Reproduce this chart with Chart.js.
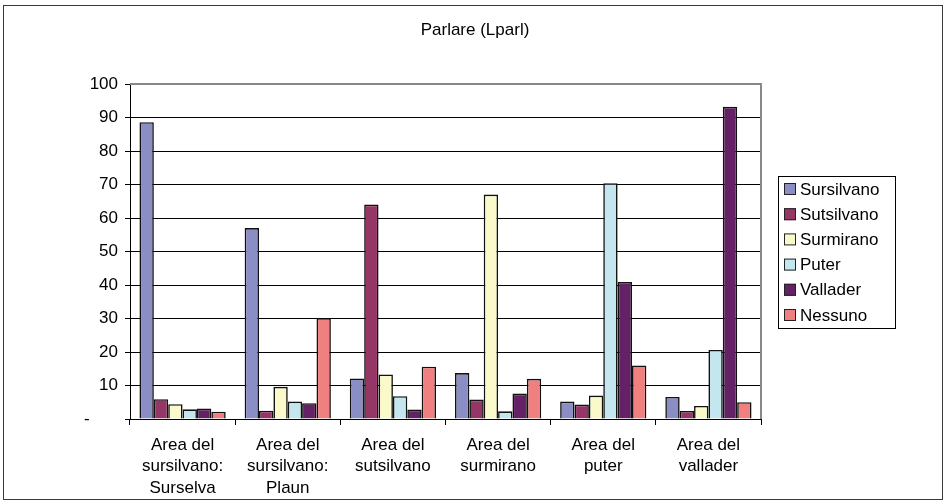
<!DOCTYPE html>
<html>
<head>
<meta charset="utf-8">
<title>Parlare (Lparl)</title>
<script src="https://cdn.jsdelivr.net/npm/chart.js@4"></script>
<style>
  html, body { margin: 0; padding: 0; background: #fff; }
  canvas { display: block; }
</style>
</head>
<body>
<canvas id="parlareChart" width="946" height="502"></canvas>
<script>
// categorie (aree) e percentuali per idioma
const areas = [
  ['Area del', 'sursilvano:', 'Surselva'],
  ['Area del', 'sursilvano:', 'Plaun'],
  ['Area del', 'sutsilvano'],
  ['Area del', 'surmirano'],
  ['Area del', 'puter'],
  ['Area del', 'vallader']
];
const seriesNames = ['Sursilvano', 'Sutsilvano', 'Surmirano', 'Puter', 'Vallader', 'Nessuno'];
const sursilvano = [88.6, 57.0, 12.1, 13.7, 5.2, 6.6];
const sutsilvano = [5.9, 2.5, 64.0, 5.8, 4.3, 2.4];
const surmirano  = [4.4, 9.6, 13.3, 67.0, 7.0, 3.9];
const puter      = [2.9, 5.2, 6.8, 2.3, 70.4, 20.6];
const vallader   = [3.1, 4.7, 2.8, 7.6, 40.9, 93.2];
const nessuno    = [2.2, 30.1, 15.6, 12.0, 16.0, 5.0];
const yMin = 0, yMax = 100, yStep = 10;
const chartTitle = 'Parlare (Lparl)';

const colors = ['#8b8dc5', '#963667', '#f9f9ca', '#c4e7ef', '#652166', '#f08080'];
const values = [sursilvano, sutsilvano, surmirano, puter, vallader, nessuno];

const FONT = '"Liberation Sans", Arial, sans-serif';
Chart.defaults.font.family = FONT;
Chart.defaults.font.size = 17;
Chart.defaults.color = '#000';

// cornice esterna, titolo centrato sulla tela, bordo grigio dell'area del grafico
const frame = {
  id: 'frame',
  beforeDraw(chart) {
    const c = chart.ctx;
    c.save();
    c.fillStyle = '#fff';
    c.fillRect(0, 0, chart.width, chart.height);
    c.strokeStyle = '#3a3a3a';
    c.lineWidth = 1;
    c.strokeRect(3.5, 5.5, chart.width - 7, chart.height - 8);
    c.fillStyle = '#000';
    c.font = '17px ' + FONT;
    c.textAlign = 'center';
    c.textBaseline = 'middle';
    c.fillText(chartTitle, chart.width / 2 + 2, 30);
    c.restore();
  },
  afterDraw(chart) {
    const a = chart.chartArea, c = chart.ctx;
    c.save();
    c.strokeStyle = '#888';
    c.lineWidth = 2;
    c.beginPath();
    c.moveTo(a.left, a.top);
    c.lineTo(a.right, a.top);
    c.lineTo(a.right, a.bottom);
    c.stroke();
    c.restore();
  }
};

// legenda a destra, con riquadro
const boxLegend = {
  id: 'boxLegend',
  afterDraw(chart) {
    const c = chart.ctx;
    const x = 778, y = 176, w = 117, h = 152, row = 25.2;
    c.save();
    c.strokeStyle = '#000';
    c.lineWidth = 1;
    c.strokeRect(x + 0.5, y + 0.5, w, h);
    c.font = '17px ' + FONT;
    c.textBaseline = 'middle';
    chart.data.datasets.forEach((ds, i) => {
      const cy = y + 13 + i * row;
      c.fillStyle = ds.backgroundColor;
      c.fillRect(x + 6, cy - 6, 12, 12);
      c.strokeStyle = '#222';
      c.strokeRect(x + 6.5, cy - 5.5, 11, 11);
      c.fillStyle = '#000';
      c.fillText(ds.label, x + 22, cy + 1);
    });
    c.restore();
  }
};

const ctx = document.getElementById('parlareChart').getContext('2d');
new Chart(ctx, {
  type: 'bar',
  data: {
    labels: areas,
    datasets: seriesNames.map((name, i) => ({
      label: name,
      data: values[i],
      backgroundColor: colors[i],
      borderColor: '#111',
      borderWidth: 1.6,
      categoryPercentage: 0.82,
      barPercentage: 1.0
    }))
  },
  options: {
    responsive: false,
    animation: false,
    devicePixelRatio: 1,
    layout: { padding: { left: 0, right: 185, top: 84, bottom: 0 } },
    plugins: {
      legend: { display: false },
      tooltip: { enabled: false },
      title: { display: false }
    },
    scales: {
      x: {
        grid: { drawOnChartArea: false, drawTicks: true, tickLength: 6, color: '#000' },
        border: { color: '#000', width: 1 },
        ticks: { padding: 9, maxRotation: 0, autoSkip: false, font: { size: 17, lineHeight: 1.28 } },
        afterFit(scale) { scale.height = 83; }
      },
      y: {
        min: yMin,
        max: yMax,
        grid: {
          color: '#000',
          lineWidth: 1,
          drawTicks: true,
          tickLength: 5
        },
        border: { color: '#000', width: 1 },
        ticks: {
          stepSize: yStep,
          padding: 7,
          font: { size: 17 },
          callback: v => v === 0 ? '-      ' : String(v)
        },
        afterFit(scale) { scale.width = 130; }
      }
    }
  },
  plugins: [frame, boxLegend]
});
</script>
</body>
</html>
